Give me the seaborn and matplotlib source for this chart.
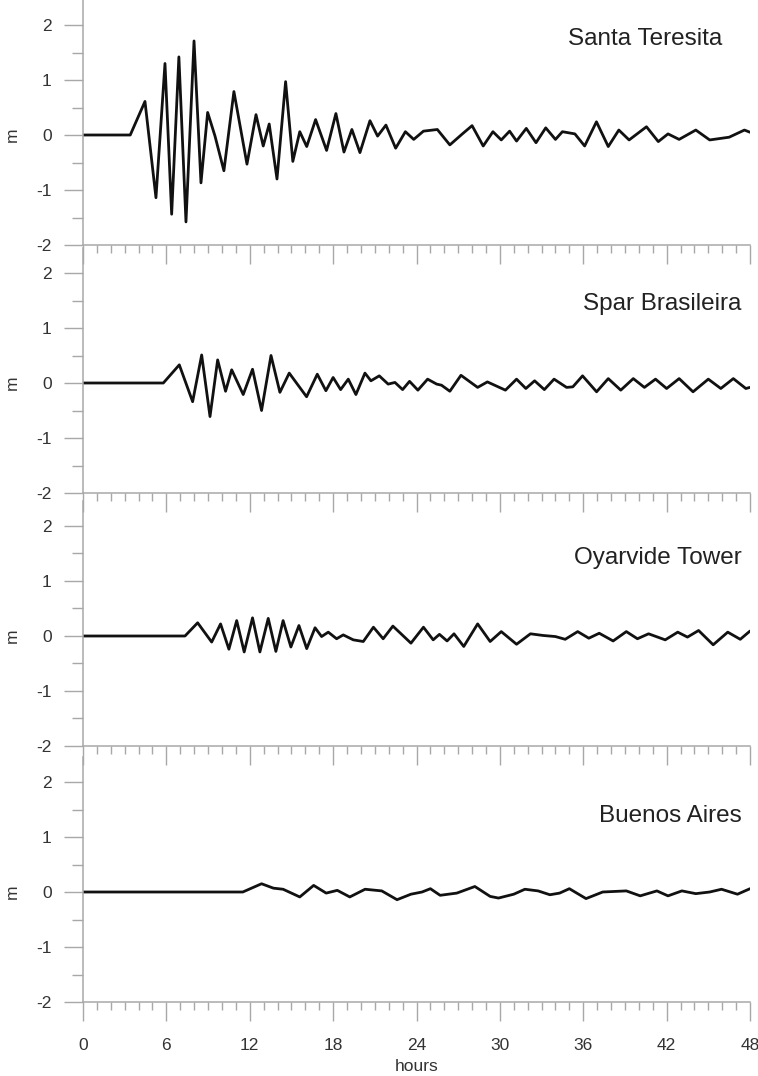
import numpy as np
import seaborn as sns
import matplotlib
matplotlib.use("Agg")
import matplotlib.pyplot as plt
import matplotlib.transforms as mtransforms
from matplotlib.ticker import MultipleLocator


# water level (m), time in hours
stations = ["Santa Teresita", "Spar Brasileira", "Oyarvide Tower", "Buenos Aires"]

t_santa = [0, 3.4, 4.46, 5.25, 5.9, 6.38, 6.9, 7.41, 7.99, 8.49,
           8.97, 9.5, 10.14, 10.86, 11.8, 12.45, 12.97, 13.4, 13.96, 14.58,
           15.1, 15.6, 16.1, 16.74, 17.53, 18.2, 18.78, 19.35, 19.93, 20.65,
           21.2, 21.8, 22.5, 23.2, 23.8, 24.5, 25.5, 26.4, 27.3, 28.0,
           28.8, 29.5, 30.1, 30.7, 31.2, 31.9, 32.6, 33.3, 34.0, 34.5,
           35.4, 36.1, 36.95, 37.8, 38.56, 39.3, 40.55, 41.4, 42.1, 42.9,
           44.1, 45.1, 46.5, 47.6, 48.0]
h_santa = [0, 0, 0.61, -1.14, 1.30, -1.44, 1.42, -1.58, 1.71, -0.87,
           0.41, -0.02, -0.65, 0.79, -0.53, 0.37, -0.2, 0.2, -0.8, 0.97,
           -0.48, 0.06, -0.21, 0.28, -0.28, 0.39, -0.31, 0.10, -0.32, 0.26,
           -0.02, 0.18, -0.24, 0.06, -0.08, 0.07, 0.10, -0.18, 0.02, 0.17,
           -0.2, 0.06, -0.09, 0.07, -0.11, 0.12, -0.14, 0.13, -0.08, 0.06,
           0.02, -0.2, 0.24, -0.21, 0.09, -0.09, 0.15, -0.12, 0.02, -0.08,
           0.09, -0.09, -0.04, 0.09, 0.05]

t_spar = [0, 5.78, 6.93, 7.89, 8.54, 9.14, 9.69, 10.26, 10.7, 11.53,
          12.2, 12.85, 13.53, 14.17, 14.84, 16.09, 16.86, 17.48, 18.0, 18.54,
          19.09, 19.64, 20.29, 20.72, 21.32, 21.96, 22.45, 23.0, 23.5, 24.1,
          24.8, 25.45, 25.8, 26.4, 27.2, 28.4, 29.1, 30.4, 31.2, 31.87,
          32.5, 33.2, 33.9, 34.8, 35.25, 35.95, 36.96, 37.8, 38.7, 39.6,
          40.4, 41.2, 42.0, 42.9, 43.9, 45.0, 45.9, 46.8, 47.7, 48.0]
h_spar = [0, 0, 0.33, -0.34, 0.51, -0.61, 0.42, -0.15, 0.24, -0.21,
          0.25, -0.5, 0.5, -0.17, 0.18, -0.25, 0.16, -0.14, 0.10, -0.12,
          0.07, -0.21, 0.18, 0.04, 0.13, -0.02, 0.01, -0.12, 0.03, -0.13,
          0.07, -0.02, -0.04, -0.15, 0.14, -0.08, 0.02, -0.13, 0.07, -0.10,
          0.04, -0.12, 0.07, -0.08, -0.07, 0.13, -0.16, 0.08, -0.13, 0.08,
          -0.08, 0.07, -0.1, 0.08, -0.16, 0.07, -0.10, 0.08, -0.1, -0.08]

t_oyar = [0, 7.34, 8.25, 9.26, 9.9, 10.5, 11.06, 11.6, 12.2, 12.73,
          13.33, 13.88, 14.4, 14.96, 15.54, 16.1, 16.7, 17.17, 17.65, 18.25,
          18.73, 19.45, 20.17, 20.9, 21.6, 22.3, 23.6, 24.5, 25.2, 25.65,
          26.2, 26.7, 27.4, 28.4, 29.3, 30.1, 31.2, 32.2, 33.1, 34.0,
          34.7, 35.6, 36.4, 37.15, 38.15, 39.1, 39.9, 40.7, 41.9, 42.8,
          43.5, 44.3, 45.35, 46.4, 47.3, 48.0]
h_oyar = [0, 0, 0.24, -0.11, 0.22, -0.24, 0.28, -0.29, 0.33, -0.29,
          0.32, -0.28, 0.28, -0.2, 0.19, -0.23, 0.15, -0.01, 0.07, -0.05,
          0.02, -0.07, -0.1, 0.16, -0.05, 0.18, -0.13, 0.16, -0.07, 0.03,
          -0.09, 0.04, -0.19, 0.22, -0.1, 0.08, -0.15, 0.04, 0.01, -0.01,
          -0.06, 0.08, -0.04, 0.05, -0.09, 0.08, -0.05, 0.04, -0.07, 0.07,
          -0.02, 0.1, -0.16, 0.07, -0.06, 0.09]

t_baires = [0, 11.5, 12.85, 13.7, 14.4, 15.6, 16.6, 17.5, 18.3, 19.2,
            20.3, 21.5, 22.6, 23.6, 24.4, 25.0, 25.7, 26.9, 28.2, 29.3,
            29.9, 31.0, 31.8, 32.75, 33.6, 34.3, 35.0, 36.2, 37.4, 39.1,
            40.1, 41.3, 42.1, 43.1, 44.1, 45.1, 45.95, 47.1, 48.0]
h_baires = [0, 0, 0.15, 0.07, 0.05, -0.09, 0.12, -0.02, 0.03, -0.09,
            0.05, 0.02, -0.14, -0.04, 0.0, 0.06, -0.06, -0.02, 0.1, -0.08,
            -0.11, -0.04, 0.05, 0.02, -0.05, -0.02, 0.06, -0.12, 0.0, 0.02,
            -0.07, 0.02, -0.07, 0.02, -0.03, 0.0, 0.05, -0.04, 0.06]

times = [t_santa, t_spar, t_oyar, t_baires]
levels = [h_santa, h_spar, h_oyar, h_baires]

x_ticks = [0, 6, 12, 18, 24, 30, 36, 42, 48]
y_ticks = [-2, -1, 0, 1, 2]


sns.set_style("white")
plt.rcParams['font.family'] = ['Liberation Sans', 'DejaVu Sans']

W, H = 758, 1076
fig = plt.figure(figsize=(W / 100, H / 100), dpi=100)

# panel bottoms (the -2 line) in pixels from the top, 55 px per metre
bottoms_px = [245, 493, 746, 1002]
px_per_m = 55
left_px, right_px = 83, 750
ytop = 2.45
name_pos = [(46.0, 1.64), (47.4, 1.33), (47.4, 1.30), (47.4, 1.27)]

grey = "#a8a8a8"
for i, name in enumerate(stations):
    h_px = (ytop + 2) * px_per_m
    ax = fig.add_axes([left_px / W, 1 - bottoms_px[i] / H,
                       (right_px - left_px) / W, h_px / H])
    line = sns.lineplot(x=times[i], y=levels[i], ax=ax, color="#111111",
                        linewidth=2.0, estimator=None, sort=False)
    for ln in ax.lines:
        ln.set_solid_joinstyle("round")
        ln.set_solid_capstyle("round")
    ax.set_xlim(0, 48)
    ax.set_ylim(-2, ytop)
    ax.set_xticks(x_ticks)
    ax.set_xticklabels([str(v) for v in x_ticks])
    ax.xaxis.set_minor_locator(MultipleLocator(1))
    ax.set_yticks(y_ticks)
    ax.set_yticklabels([str(v) for v in y_ticks])
    ax.yaxis.set_minor_locator(MultipleLocator(0.5))
    for side in ["top", "right"]:
        ax.spines[side].set_visible(False)
    for side in ["left", "bottom"]:
        ax.spines[side].set_color(grey)
        ax.spines[side].set_linewidth(1.1)
    ax.tick_params(axis="both", which="both", bottom=True, left=True,
                   top=False, right=False, direction="out", width=1.0,
                   color=grey)
    ax.tick_params(axis="both", which="major", length=14, labelsize=12.5,
                   labelcolor="#333333")
    ax.tick_params(axis="y", which="major", pad=8.5)
    ax.tick_params(axis="x", which="major", pad=12)
    ax.tick_params(axis="x", which="minor", length=6)
    ax.tick_params(axis="y", which="minor", length=8)
    ax.set_xlabel("")
    ax.set_ylabel("")
    if i < len(stations) - 1:
        ax.tick_params(axis="x", labelbottom=False)
    else:
        ax.set_xlabel("hours", fontsize=12.5, color="#333333", labelpad=4)

    trans = mtransforms.blended_transform_factory(ax.transAxes, ax.transData)
    ax.text(-0.106, 0, "m", transform=trans, rotation=90, ha="center",
            va="center", fontsize=12.5, color="#333333")
    ax.text(name_pos[i][0], name_pos[i][1], name, ha="right", va="baseline",
            fontsize=17.5, color="#222222")
    ax.set_facecolor("none")

fig.savefig("out.png", dpi=100)
